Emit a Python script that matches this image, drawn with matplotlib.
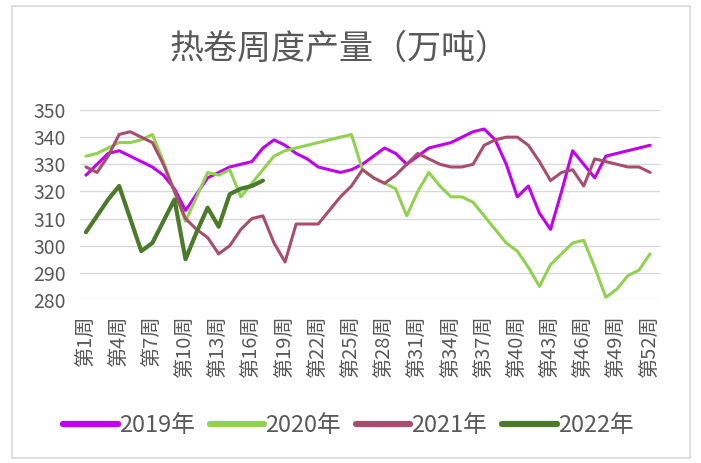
import matplotlib.pyplot as plt
from matplotlib.patches import Rectangle

plt.rcParams['font.family'] = ['Noto Sans CJK SC', 'DejaVu Sans']

# 周次
weeks = list(range(1, 53))
tick_weeks = list(range(1, 53, 3))
tick_labels = ['第%d周' % w for w in tick_weeks]

# 各年度热卷周度产量（万吨）
y2019 = [326, 330, 334, 335, 333, 331, 329, 326, 321, 313, 319, 325, 327, 329, 330, 331,
         336, 339, 337, 334, 332, 329, 328, 327, 328, 330, 333, 336, 334, 330, 333, 336,
         337, 338, 340, 342, 343, 339, 330, 318, 322, 312, 306, 320, 335, 330, 325, 333,
         334, 335, 336, 337]
y2020 = [333, 334, 336, 338, 338, 339, 341, 331, 320, 309, 318, 327, 326, 328, 318, 323,
         328, 333, 335, 336, 337, 338, 339, 340, 341, 328, 325, 323, 321, 311, 320, 327,
         322, 318, 318, 316, 311, 306, 301, 298, 292, 285, 293, 297, 301, 302, 292, 281,
         284, 289, 291, 297]
y2021 = [329, 327, 333, 341, 342, 340, 338, 330, 320, 310, 306, 303, 297, 300, 306, 310,
         311, 301, 294, 308, 308, 308, 313, 318, 322, 328, 325, 323, 326, 330, 334, 332,
         330, 329, 329, 330, 337, 339, 340, 340, 337, 331, 324, 327, 328, 322, 332, 331,
         330, 329, 329, 327]
y2022 = [305, 311, 317, 322, 310, 298, 301, 309, 317, 295, 305, 314, 307, 319, 321, 322, 324]

series = [
    ('2019年', y2019, '#C000F0', 2.2),
    ('2020年', y2020, '#92D050', 2.2),
    ('2021年', y2021, '#A84D6E', 2.2),
    ('2022年', y2022, '#4B7A2B', 3.0),
]

fig = plt.figure(figsize=(7.01, 4.63), dpi=100)
fig.patches.append(Rectangle((12 / 701, 5 / 463), 678 / 701, 452 / 463,
                             transform=fig.transFigure, fill=False,
                             edgecolor='#D9D9D9', lw=1.2))

ax = fig.add_axes([80 / 701, 163 / 463, 580 / 701, 190 / 463])

for name, vals, color, lw in series:
    ax.plot(weeks[:len(vals)], vals, color=color, lw=lw, label=name,
            solid_capstyle='round', solid_joinstyle='round')

ax.set_xlim(0.46, 52.9)
ax.set_ylim(280, 350)
ax.set_yticks(range(280, 351, 10))
ax.set_xticks(tick_weeks)
ax.set_xticklabels(tick_labels, rotation=90)
ax.tick_params(axis='x', length=0, pad=11, labelsize=14.5, colors='#595959')
ax.tick_params(axis='y', length=0, pad=10, labelsize=14, colors='#595959')
ax.grid(axis='y', color='#D9D9D9', lw=1)
ax.set_axisbelow(True)
for s in ax.spines.values():
    s.set_visible(False)

fig.text(0.485, 0.893, '热卷周度产量（万吨）', ha='center', va='center',
         fontsize=24.5, color='#595959')

leg = fig.legend(loc='center', bbox_to_anchor=(0.497, 0.081), ncol=4, frameon=False,
                 fontsize=17, labelcolor='#595959', handlelength=2.3,
                 handletextpad=0.05, columnspacing=0.64)
for h in leg.legend_handles:
    h.set_linewidth(4.5)

fig.savefig('out.png', dpi=100)
